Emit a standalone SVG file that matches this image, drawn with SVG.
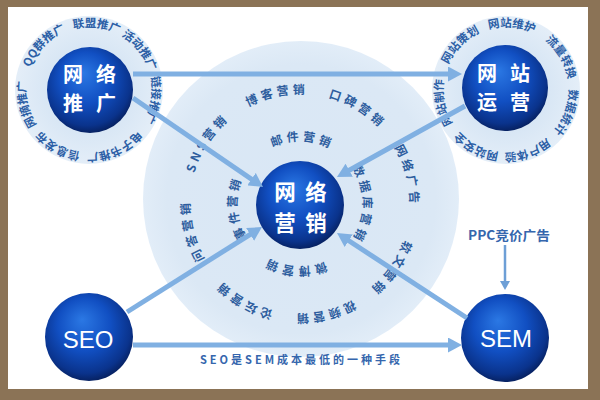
<svg xmlns="http://www.w3.org/2000/svg" width="600" height="400" viewBox="0 0 600 400">
<style>
.ring{font-family:"Noto Sans CJK SC","Liberation Sans",sans-serif;font-weight:bold;font-size:11.5px;fill:#2c5fa6}
.big{font-family:"Noto Sans CJK SC","Liberation Sans",sans-serif;font-weight:bold;font-size:12px;fill:#2d5d9e;letter-spacing:3.5px}
.nt{font-family:"Noto Sans CJK SC","Liberation Sans",sans-serif;font-weight:bold;fill:#ffffff;text-anchor:middle}
.lt{font-family:"Liberation Sans",Arial,sans-serif;fill:#ffffff;text-anchor:middle;font-size:24px}
.conn{stroke:#80b0e2;stroke-width:5;fill:none;marker-end:url(#ah)}
.lab{font-family:"Noto Sans CJK SC","Liberation Sans",sans-serif;font-weight:bold;fill:#3566ad}
</style>
<defs>
<radialGradient id="sph" cx="47%" cy="42%" r="60%" fx="42%" fy="30%">
<stop offset="0" stop-color="#2b78e4"/>
<stop offset="0.5" stop-color="#114fc2"/>
<stop offset="0.85" stop-color="#0a338c"/>
<stop offset="1" stop-color="#061e5a"/>
</radialGradient>
<radialGradient id="bigg" cx="50%" cy="50%" r="50%">
<stop offset="0" stop-color="#d9e7f5"/>
<stop offset="0.85" stop-color="#dbe8f5"/>
<stop offset="1" stop-color="#e2edf8"/>
</radialGradient>
<radialGradient id="ringg" cx="50%" cy="50%" r="50%">
<stop offset="0.5" stop-color="#d6e5f4"/>
<stop offset="1" stop-color="#e4eef8"/>
</radialGradient>
<marker id="ah" markerUnits="userSpaceOnUse" markerWidth="15" markerHeight="15" refX="4" refY="7.5" orient="auto" viewBox="0 0 15 15">
<path d="M0,0 L14,7.5 L0,15 z" fill="#80b0e2"/>
</marker>
<marker id="ah2" markerUnits="userSpaceOnUse" markerWidth="10" markerHeight="10" refX="3" refY="5" orient="auto" viewBox="0 0 10 10">
<path d="M0,0 L9,5 L0,10 z" fill="#6d9fd6"/>
</marker>
<path id="pA" d="M26,90 A63,63 0 1 1 152,90 A63,63 0 1 1 26,90 A63,63 0 1 1 152,90 A63,63 0 1 1 26,90"/>
<path id="pB" d="M443,90 A63,63 0 1 1 569,90 A63,63 0 1 1 443,90 A63,63 0 1 1 569,90 A63,63 0 1 1 443,90"/>
<path id="pO" d="M190,204 A110,110 0 1 1 410,204 A110,110 0 1 1 190,204 A110,110 0 1 1 410,204 A110,110 0 1 1 190,204"/>
<path id="pI" d="M237,204 A63,63 0 1 1 363,204 A63,63 0 1 1 237,204 A63,63 0 1 1 363,204 A63,63 0 1 1 237,204"/>
</defs>

<rect x="0" y="0" width="600" height="400" fill="#8b7356"/>
<rect x="8" y="7" width="580" height="382" fill="#ffffff"/>

<g id="bigring">
<circle cx="301" cy="199" r="158" fill="url(#bigg)"/>
<text class="big" text-anchor="middle"><textPath href="#pO" startOffset="754.5">SNS营销</textPath></text>
<text class="big" text-anchor="middle"><textPath href="#pO" startOffset="149.8">博客营销</textPath></text>
<text class="big" text-anchor="middle"><textPath href="#pO" startOffset="232.3">口碑营销</textPath></text>
<text class="big" text-anchor="middle"><textPath href="#pO" startOffset="316.8">网络广告</textPath></text>
<text class="big" text-anchor="middle"><textPath href="#pO" startOffset="412.8">软文营销</textPath></text>
<text class="big" text-anchor="middle"><textPath href="#pO" startOffset="493.4">视频营销</textPath></text>
<text class="big" text-anchor="middle"><textPath href="#pO" startOffset="576.0">论坛营销</textPath></text>
<text class="big" text-anchor="middle"><textPath href="#pO" startOffset="664">问答营销</textPath></text>
<text class="big" text-anchor="middle"><textPath href="#pI" startOffset="101.2">邮件营销</textPath></text>
<text class="big" text-anchor="middle"><textPath href="#pI" startOffset="197.9">数据库营销</textPath></text>
<text class="big" text-anchor="middle"><textPath href="#pI" startOffset="301.3">微博营销</textPath></text>
<text class="big" text-anchor="middle"><textPath href="#pI" startOffset="391.5">事件营销</textPath></text>
</g>

<g id="node-tuiguang">
<circle cx="89" cy="90" r="74" fill="url(#ringg)"/>
<text class="ring" text-anchor="middle"><textPath href="#pA" startOffset="444.2">QQ群推广</textPath></text>
<text class="ring" text-anchor="middle"><textPath href="#pA" startOffset="106.1">联盟推广</textPath></text>
<text class="ring" text-anchor="middle"><textPath href="#pA" startOffset="155.6">活动推广</textPath></text>
<text class="ring" text-anchor="middle"><textPath href="#pA" startOffset="207.3">链接推广</textPath></text>
<text class="ring" text-anchor="middle"><textPath href="#pA" startOffset="270.0">电子书推广</textPath></text>
<text class="ring" text-anchor="middle"><textPath href="#pA" startOffset="328.2">信息发布</textPath></text>
<text class="ring" text-anchor="middle"><textPath href="#pA" startOffset="381.0">网摘推广</textPath></text>
<circle cx="90" cy="90" r="43" fill="url(#sph)"/>
<text class="nt" font-size="20" y="82"><tspan x="73">网</tspan><tspan x="106">络</tspan></text>
<text class="nt" font-size="20" y="111"><tspan x="73">推</tspan><tspan x="106">广</tspan></text>
</g>

<g id="node-yunying">
<circle cx="506" cy="90" r="74" fill="url(#ringg)"/>
<text class="ring" text-anchor="middle"><textPath href="#pB" startOffset="444.2">网站策划</textPath></text>
<text class="ring" text-anchor="middle"><textPath href="#pB" startOffset="104.5">网站维护</textPath></text>
<text class="ring" text-anchor="middle"><textPath href="#pB" startOffset="163.8">流量转换</textPath></text>
<text class="ring" text-anchor="middle"><textPath href="#pB" startOffset="219.9">数据统计</textPath></text>
<text class="ring" text-anchor="middle"><textPath href="#pB" startOffset="274.9">用户体验</textPath></text>
<text class="ring" text-anchor="middle"><textPath href="#pB" startOffset="326.6">网站安全</textPath></text>
<text class="ring" text-anchor="middle"><textPath href="#pB" startOffset="382.7">网站制作</textPath></text>
<circle cx="505" cy="88" r="43" fill="url(#sph)"/>
<text class="nt" font-size="20" y="81"><tspan x="487">网</tspan><tspan x="520">站</tspan></text>
<text class="nt" font-size="20" y="110"><tspan x="487">运</tspan><tspan x="520">营</tspan></text>
</g>

<g id="node-yingxiao">
<circle cx="300" cy="205" r="44" fill="url(#sph)"/>
<text class="nt" font-size="21.5" y="200"><tspan x="285">网</tspan><tspan x="316">络</tspan></text>
<text class="nt" font-size="21.5" y="231"><tspan x="285">营</tspan><tspan x="316">销</tspan></text>
</g>

<g id="node-seo">
<circle cx="89" cy="337" r="44" fill="url(#sph)"/>
<text class="lt" x="88" y="347.5">SEO</text>
</g>

<g id="node-sem">
<circle cx="505" cy="338" r="44" fill="url(#sph)"/>
<text class="lt" x="506" y="347">SEM</text>
</g>

<g id="node-ppc">
<text class="lab" x="509" y="240" font-size="13" text-anchor="middle" textLength="82" lengthAdjust="spacingAndGlyphs">PPC竞价广告</text>
</g>

<g id="connectors">
<line class="conn" x1="133" y1="74" x2="452" y2="74"/>
<line class="conn" x1="133" y1="98" x2="254.8" y2="181.4"/>
<line class="conn" x1="465" y1="106" x2="345.7" y2="172.2"/>
<line class="conn" x1="127" y1="312" x2="253.5" y2="232.3"/>
<line class="conn" x1="467" y1="318" x2="345.4" y2="238.5"/>
<line class="conn" x1="133" y1="345" x2="452" y2="345"/>
<line x1="505" y1="245" x2="505" y2="284" stroke="#6d9fd6" stroke-width="2.5" marker-end="url(#ah2)"/>
<text class="lab" x="300" y="364" font-size="11" text-anchor="middle" textLength="200" lengthAdjust="spacing">SEO是SEM成本最低的一种手段</text>
</g>
</svg>
